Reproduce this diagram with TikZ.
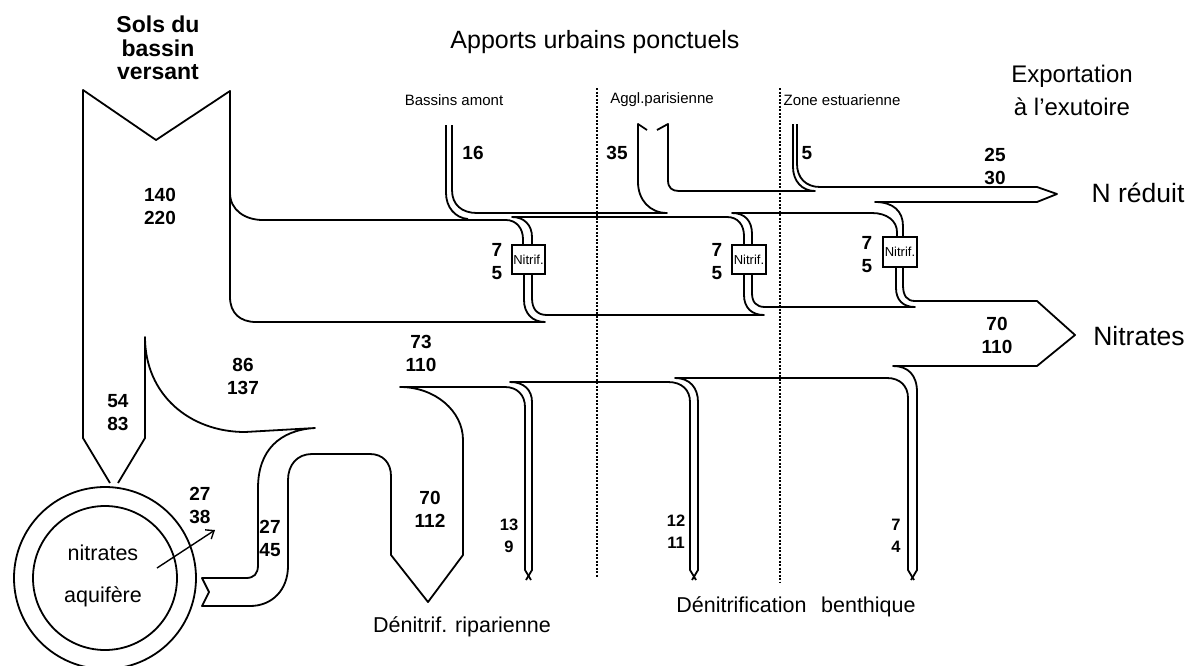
\documentclass[tikz,border=0pt]{standalone}
\usepackage{fontspec}
\setmainfont{Liberation Sans}
\usetikzlibrary{arrows.meta}
\newcommand\myfs[2]{\fontsize{#1}{#2}\selectfont}
\begin{document}
\begin{tikzpicture}[x=1pt,y=-1pt,
  ln/.style={line width=1.8pt,line join=round},
  dots/.style={line width=2pt,dash pattern=on 2pt off 1.5pt},
  num/.style={font=\bfseries\myfs{19}{23},align=center,inner sep=0pt},
  snum/.style={font=\bfseries\myfs{16.5}{22},align=center,inner sep=0pt},
  title/.style={font=\myfs{24}{30},align=center,inner sep=0pt},
  big/.style={font=\myfs{26.5}{30},inner sep=0pt},
  zone/.style={font=\myfs{15}{18},inner sep=0pt},
  lbl/.style={font=\myfs{21.5}{26},inner sep=0pt},
  nbox/.style={draw,line width=1.8pt,inner sep=0pt,font=\myfs{13}{15}}]
\useasboundingbox (0,0) rectangle (1191,665);
\fill[white] (0,0) rectangle (1191,665);

% zone separators
\draw[dots] (597,88) -- (597,578);
\draw[dots] (780,88) -- (780,583);

% Sols du bassin versant column and nitrate band
\draw[ln] (110,483) -- (83,438) -- (83,90) -- (156,140) -- (230,91) -- (230,297)
  .. controls (230,313) and (240,322) .. (256,322) -- (545,322)
  .. controls (532,322) and (524,313) .. (524,300) -- (524,274);
\draw[ln] (230,193) .. controls (230,210) and (245,220) .. (263,220) -- (506,220)
  .. controls (516,220) and (523,228) .. (523,239) -- (523,245);

% urban inputs
\draw[ln] (446,125) -- (446,193) .. controls (446,207) and (455,218) .. (468,219);
\draw[ln] (452,125) -- (452,190) .. controls (452,205) and (462,213) .. (477,213) -- (667,213)
  .. controls (650,213) and (638,200) .. (638,182) -- (638,124) -- (647,130);
\draw[ln] (657,130) -- (668,124) -- (668,180) .. controls (668,188) and (672,191) .. (679,191)
  -- (815,191) .. controls (802,191) and (793,181) .. (793,167) -- (793,124);
\draw[ln] (797,124) -- (797,164) .. controls (797,178) and (806,187) .. (820,187) -- (1037,187)
  -- (1057,194) -- (1037,202) -- (875,202) .. controls (893,202) and (903,211) .. (903,226) -- (903,237);

% nitrification channels (upper parts)
\draw[ln] (532,245) -- (532,237) .. controls (532,225) and (524,217) .. (512,217) -- (727,217)
  .. controls (738,217) and (744,225) .. (744,236) -- (744,245);
\draw[ln] (752,245) -- (752,234) .. controls (752,221) and (745,213) .. (732,213) -- (872,213)
  .. controls (887,213) and (897,221) .. (897,232) -- (897,237);

% nitrification channels (lower parts)
\draw[ln] (532,274) -- (532,298) .. controls (532,309) and (537,315) .. (547,315) -- (764,315)
  .. controls (752,315) and (744,308) .. (744,295) -- (744,274);
\draw[ln] (752,274) -- (752,293) .. controls (752,302) and (756,307) .. (765,307) -- (915,307)
  .. controls (903,307) and (896,300) .. (896,288) -- (896,267);

% nitrates export arrow and benthic channels
\draw[ln] (903,267) -- (903,285) .. controls (903,296) and (907,301) .. (915,301) -- (1037,301)
  -- (1075,335) -- (1037,366) -- (893,366) .. controls (908,366) and (917,375) .. (917,392)
  -- (917,570) -- (911,580);
\draw[ln] (914,580) -- (908,570) -- (908,398) .. controls (908,386) and (900,378) .. (887,378)
  -- (675,378) .. controls (690,378) and (698,388) .. (698,402) -- (698,570) -- (692,580);
\draw[ln] (696,580) -- (690,570) -- (690,402) .. controls (690,390) and (682,382) .. (668,382)
  -- (510,382) .. controls (524,382) and (532,390) .. (532,402) -- (532,570) -- (526,580);

% riparian, aquifer exchange
\draw[ln] (531,580) -- (525,570) -- (525,407) .. controls (525,395) and (517,387) .. (505,387)
  -- (400,387) .. controls (435,387) and (463,411) .. (463,440) -- (463,555) -- (428,602)
  -- (391,555) -- (391,476) .. controls (391,463) and (383,454) .. (370,454) -- (312,454)
  .. controls (297,454) and (288,465) .. (288,480) -- (288,566)
  .. controls (288,590) and (272,606) .. (250,606) -- (202,606) -- (209,592) -- (202,578)
  -- (246,578) .. controls (254,578) and (258,574) .. (258,565) -- (258,488)
  .. controls (258,450) and (280,430) .. (315,428) -- (245,432)
  .. controls (190,432) and (145,395) .. (145,337) -- (145,438) -- (118,483);

% nitrification boxes
\node[nbox,minimum width=33pt,minimum height=29pt] (n1) at (528.5,259.5) {Nitrif.};
\node[nbox,minimum width=34pt,minimum height=29pt] (n2) at (749,259.5) {Nitrif.};
\node[nbox,minimum width=34pt,minimum height=30pt] (n3) at (900,252) {Nitrif.};

% aquifer
\draw[ln] (105,578) circle[radius=91];
\draw[ln] (105,578) circle[radius=72];
\node[lbl] (aq1) at (103,553) {nitrates};
\node[lbl] (aq2) at (103,597) {aquifère};
\coordinate (arS) at (157,568);
\coordinate (arE) at (215,530);
\draw[line width=1.4pt,-{Straight Barb[length=7pt,width=11pt,line width=1.4pt]}] (arS) -- (arE);

% titles
\node[title,font=\bfseries\myfs{23}{23.5}] (sols) at (158,48) {Sols du\\bassin\\versant};
\node[title,font=\myfs{25}{30}] (app) at (595,42) {Apports urbains ponctuels};
\node[title] (exp1) at (1072,76) {Exportation};
\node[title] (exp2) at (1072,107) {à l’exutoire};
\node[zone] (z1) at (454,100) {Bassins amont};
\node[zone] (z2) at (662,100) {Aggl.parisienne};
\node[zone] (z3) at (842,100) {Zone estuarienne};
\node[big] (nred) at (1138,193) {N réduit};
\node[big] (nit) at (1139,336) {Nitrates};
\node[lbl] (drip) at (462,627) {Dénitrif. riparienne};
\node[lbl] (dben) at (796,607) {Dénitrification\hspace{0.4em} benthique};

% flux values
\node[num] (v140) at (160,206.5) {140\\220};
\node[num] (v16) at (473,153) {16};
\node[num] (v35) at (617,153) {35};
\node[num] (v5) at (807,153) {5};
\node[num] (v25) at (995,166.5) {25\\30};
\node[num] (vn1) at (497,262) {7\\5};
\node[num] (vn2) at (717,262) {7\\5};
\node[num] (vn3) at (867,255) {7\\5};
\node[num] (v70) at (997,335) {70\\110};
\node[num] (v73) at (421,353.5) {73\\110};
\node[num] (v86) at (243,376.5) {86\\137};
\node[num] (v54) at (118,413) {54\\83};
\node[num] (v27a) at (200,505) {27\\38};
\node[num] (v27b) at (270,538) {27\\45};
\node[num] (v70b) at (430,509.5) {70\\112};
\node[snum] (b1) at (509,536) {13\\9};
\node[snum] (b2) at (676,532) {12\\11};
\node[snum] (b3) at (896,536) {7\\4};
\end{tikzpicture}
\end{document}
